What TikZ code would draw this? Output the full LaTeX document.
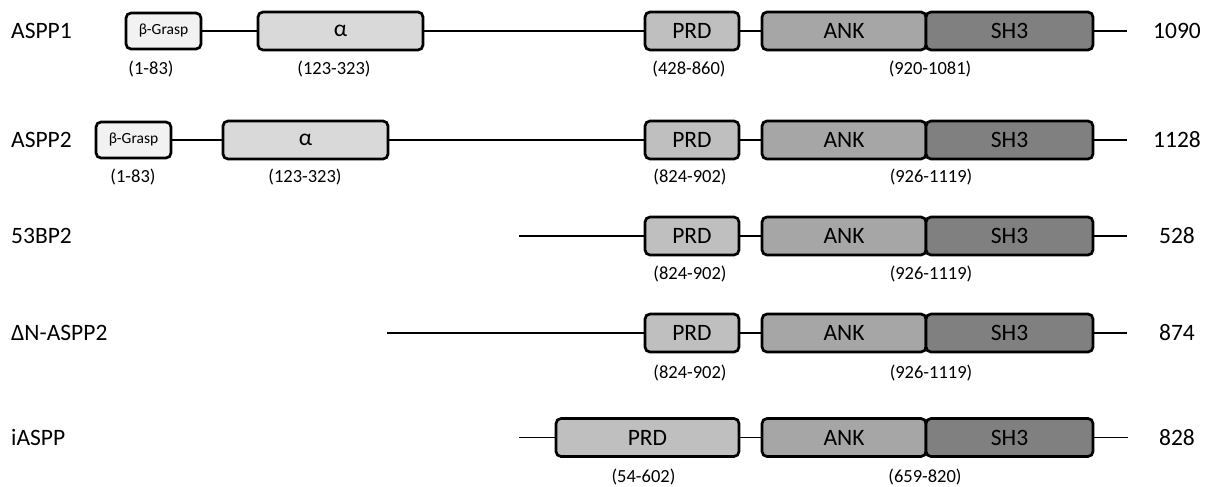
\documentclass[tikz,border=0pt]{standalone}
\usepackage{fontspec}
\setmainfont{Carlito}
\definecolor{cBeta}{HTML}{F2F2F2}
\definecolor{cAlpha}{HTML}{D9D9D9}
\definecolor{cPRD}{HTML}{BFBFBF}
\definecolor{cANK}{HTML}{A6A6A6}
\definecolor{cSH}{HTML}{808080}
\begin{document}
\begin{tikzpicture}[x=1pt,y=-1pt,
  dom/.style={draw=black, line width=2.7pt, rounded corners=5pt, minimum height=38pt,
    inner sep=0pt, outer sep=0pt, anchor=west, font=\fontsize{23.5}{28}\selectfont},
  beta/.style={dom, fill=cBeta, minimum height=36pt, minimum width=75pt, font=\fontsize{15.5}{18}\selectfont},
  alpha/.style={dom, fill=cAlpha, minimum width=165pt},
  prd/.style={dom, fill=cPRD, minimum width=94pt},
  ank/.style={dom, fill=cANK, minimum width=164pt},
  sh/.style={dom, fill=cSH, minimum width=167pt},
  link/.style={draw=black, line width=1.1pt},
  rowlbl/.style={anchor=west, inner sep=0pt, font=\fontsize{23.5}{28}\selectfont},
  numlbl/.style={inner sep=0pt, font=\fontsize{23.5}{28}\selectfont},
  sublbl/.style={inner sep=0pt, font=\fontsize{18.5}{22}\selectfont}
]
\useasboundingbox (0,0) rectangle (1205,487);

% Row 1: ASPP1
\node[rowlbl] (l1) at (11,31) {ASPP1};
\node[beta] (bg1) at (126,31) {β-Grasp};
\node[alpha] (a1) at (258,31) {α};
\node[prd] (p1) at (645,31) {PRD};
\node[ank] (k1) at (762,31) {ANK};
\node[sh] (s1) at (926,31) {SH3};
\coordinate (e1) at (1127,31);
\node[numlbl] (n1) at (1177,31) {1090};
\draw[link] (bg1.east) -- (a1.west) (a1.east) -- (p1.west) (p1.east) -- (k1.west) (s1.east) -- (e1);
\node[sublbl] (r1a) at (151,69) {(1-83)};
\node[sublbl] (r1b) at (334,69) {(123-323)};
\node[sublbl] (r1c) at (689,69) {(428-860)};
\node[sublbl] (r1d) at (930,69) {(920-1081)};

% Row 2: ASPP2
\node[rowlbl] (l2) at (11,140) {ASPP2};
\node[beta] (bg2) at (96,140) {β-Grasp};
\node[alpha] (a2) at (223,140) {α};
\node[prd] (p2) at (645,140) {PRD};
\node[ank] (k2) at (762,140) {ANK};
\node[sh] (s2) at (926,140) {SH3};
\coordinate (e2) at (1127,140);
\node[numlbl] (n2) at (1177,140) {1128};
\draw[link] (bg2.east) -- (a2.west) (a2.east) -- (p2.west) (p2.east) -- (k2.west) (s2.east) -- (e2);
\node[sublbl] (r2a) at (133,177) {(1-83)};
\node[sublbl] (r2b) at (305,177) {(123-323)};
\node[sublbl] (r2c) at (690,177) {(824-902)};
\node[sublbl] (r2d) at (931,177) {(926-1119)};

% Row 3: 53BP2
\node[rowlbl] (l3) at (11,236) {53BP2};
\coordinate (b3) at (519,236);
\node[prd] (p3) at (645,236) {PRD};
\node[ank] (k3) at (762,236) {ANK};
\node[sh] (s3) at (926,236) {SH3};
\coordinate (e3) at (1127,236);
\node[numlbl] (n3) at (1177,236) {528};
\draw[link] (b3) -- (p3.west) (p3.east) -- (k3.west) (s3.east) -- (e3);
\node[sublbl] (r3c) at (690,274) {(824-902)};
\node[sublbl] (r3d) at (931,274) {(926-1119)};

% Row 4: DeltaN-ASPP2
\node[rowlbl] (l4) at (11,333) {ΔN-ASPP2};
\coordinate (b4) at (387,333);
\node[prd] (p4) at (645,333) {PRD};
\node[ank] (k4) at (762,333) {ANK};
\node[sh] (s4) at (926,333) {SH3};
\coordinate (e4) at (1127,333);
\node[numlbl] (n4) at (1177,333) {874};
\draw[link] (b4) -- (p4.west) (p4.east) -- (k4.west) (s4.east) -- (e4);
\node[sublbl] (r4c) at (690,373) {(824-902)};
\node[sublbl] (r4d) at (931,373) {(926-1119)};

% Row 5: iASPP
\node[rowlbl] (l5) at (11,437.5) {iASPP};
\coordinate (b5) at (519,437.5);
\node[prd, minimum width=183pt] (p5) at (556,437.5) {PRD};
\node[ank] (k5) at (762,437.5) {ANK};
\node[sh] (s5) at (926,437.5) {SH3};
\coordinate (e5) at (1128,437.5);
\node[numlbl] (n5) at (1177,437.5) {828};
\draw[link] (b5) -- (p5.west) (p5.east) -- (k5.west) (s5.east) -- (e5);
\node[sublbl] (r5c) at (643.5,477) {(54-602)};
\node[sublbl] (r5d) at (925,477) {(659-820)};
\end{tikzpicture}
\end{document}
